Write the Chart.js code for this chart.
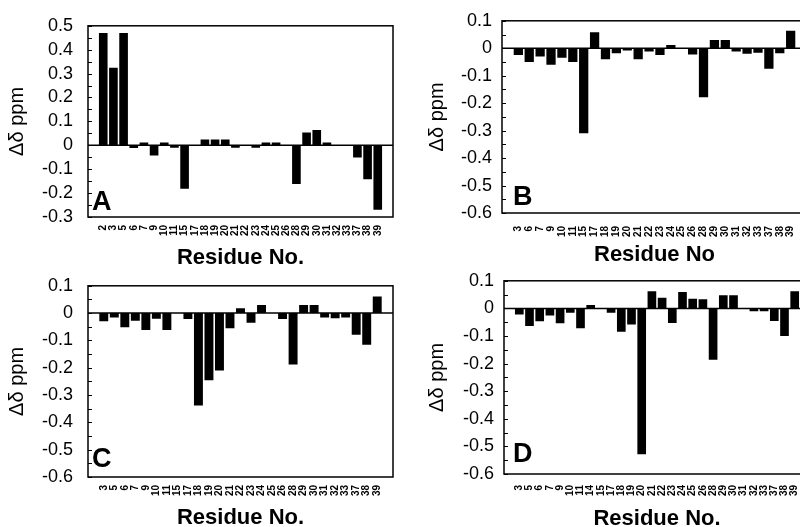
<!DOCTYPE html>
<html>
<head>
<meta charset="utf-8">
<script src="https://cdn.jsdelivr.net/npm/chart.js@4.4.1/dist/chart.umd.min.js"></script>
<style>
  html, body { margin: 0; padding: 0; background: #fff; overflow: hidden; width: 800px; height: 527px; position: relative; }
  canvas { position: absolute; }
</style>
</head>
<body>
<canvas id="chartA" width="400" height="271" style="left:0;top:0"></canvas>
<canvas id="chartB" width="420" height="268" style="left:400px;top:0"></canvas>
<canvas id="chartC" width="400" height="271" style="left:0;top:260px"></canvas>
<canvas id="chartD" width="420" height="272" style="left:400px;top:260px"></canvas>
<script>
// --- Data (residue labels and chemical shift changes, ppm) ---
const residuesA = ['2','3','5','6','7','9','10','11','15','17','18','19','20','21','22','23','24','25','26','28','29','30','31','32','33','37','38','39'];
const shiftsA = [0.47, 0.324, 0.47, -0.011, 0.012, -0.043, 0.012, -0.01, -0.182, 0, 0.024, 0.024, 0.024, -0.01, 0, -0.01, 0.012, 0.012, 0, -0.162, 0.054, 0.064, 0.012, 0, 0, -0.051, -0.142, -0.27];
const yRangeA = [-0.3, 0.5];

const residuesB = ['3','6','7','9','10','11','15','17','18','19','20','21','22','23','24','25','26','28','29','30','31','32','33','37','38','39'];
const shiftsB = [-0.025, -0.05, -0.03, -0.06, -0.035, -0.05, -0.31, 0.058, -0.04, -0.018, -0.008, -0.04, -0.012, -0.025, 0.012, 0, -0.023, -0.178, 0.03, 0.03, -0.012, -0.02, -0.016, -0.075, -0.018, 0.064];
const yRangeB = [-0.6, 0.1];

const residuesC = ['3','5','6','7','9','10','11','15','17','18','19','20','21','22','23','24','25','26','28','29','30','31','32','33','37','38','39'];
const shiftsC = [-0.03, -0.016, -0.052, -0.028, -0.062, -0.021, -0.062, 0, -0.022, -0.338, -0.246, -0.21, -0.055, 0.018, -0.035, 0.03, 0, -0.022, -0.188, 0.03, 0.03, -0.016, -0.019, -0.016, -0.079, -0.116, 0.061];
const yRangeC = [-0.6, 0.1];

const residuesD = ['3','5','6','7','9','10','11','14','15','17','18','19','20','21','22','23','24','25','26','28','29','30','31','32','33','37','38','39'];
const shiftsD = [-0.022, -0.064, -0.047, -0.026, -0.054, -0.016, -0.072, 0.012, 0, -0.016, -0.085, -0.058, -0.528, 0.062, 0.039, -0.053, 0.059, 0.035, 0.033, -0.186, 0.048, 0.048, 0, -0.01, -0.01, -0.046, -0.1, 0.062];
const yRangeD = [-0.6, 0.1];

const FONT = '"Liberation Sans", Arial, sans-serif';

// frame, inward ticks, zero line and the panel letter
const panelDecor = {
  id: 'panelDecor',
  afterDraw(chart, args, opts) {
    const { ctx, chartArea: a } = chart;
    const y = chart.scales.y;
    ctx.save();
    ctx.strokeStyle = '#000';
    ctx.lineWidth = 1;
    y.ticks.forEach(t => {
      const py = Math.round(y.getPixelForValue(t.value)) + 0.5;
      ctx.beginPath();
      ctx.moveTo(a.left, py);
      ctx.lineTo(a.left + 4, py);
      ctx.stroke();
    });
    ctx.lineWidth = 1.5;
    const zy = y.getPixelForValue(0);
    ctx.beginPath();
    ctx.moveTo(a.left, zy);
    ctx.lineTo(a.right, zy);
    ctx.stroke();
    ctx.strokeRect(a.left, a.top, a.right - a.left, a.bottom - a.top);
    ctx.fillStyle = '#000';
    ctx.font = 'bold 27px ' + FONT;
    ctx.textBaseline = 'alphabetic';
    ctx.fillText(opts.letter, a.left + opts.letterDx, a.bottom - opts.letterDy);
    ctx.restore();
  }
};

function makePanel(id, residues, shifts, yRange, o) {
  new Chart(document.getElementById(id), {
    type: 'bar',
    data: {
      datasets: [{
        data: shifts.map((v, i) => ({ x: i, y: v })),
        backgroundColor: '#000',
        borderWidth: 0,
        barPercentage: 0.85,
        categoryPercentage: 1
      }]
    },
    options: {
      responsive: false,
      animation: false,
      layout: { padding: { top: o.top, right: o.right, left: 0, bottom: 0 } },
      plugins: {
        legend: { display: false },
        tooltip: { enabled: false },
        panelDecor: { letter: o.letter, letterDx: o.letterDx, letterDy: o.letterDy }
      },
      scales: {
        x: {
          type: 'linear',
          min: -1,
          max: residues.length,
          grid: { display: false, drawTicks: false },
          border: { display: false },
          ticks: {
            stepSize: 1,
            autoSkip: false,
            maxRotation: 90,
            minRotation: 90,
            padding: o.xPad,
            color: '#000',
            font: { family: FONT, size: 10, weight: 'bold' },
            callback: v => residues[v] ?? ''
          },
          title: {
            display: true,
            text: o.xTitle,
            color: '#000',
            font: { family: FONT, size: 22, weight: 'bold' },
            padding: { top: 0, bottom: 0 }
          },
          afterFit: s => {
            s.height = o.xHeight;
            s.paddingLeft = 0;
            s.paddingRight = 0;
          }
        },
        y: {
          min: yRange[0],
          max: yRange[1],
          grid: { display: false, drawTicks: false },
          border: { display: false },
          ticks: {
            stepSize: 0.05,
            autoSkip: false,
            padding: o.yPad,
            color: '#000',
            font: { family: FONT, size: 18 },
            callback: v => {
              const r = Math.round(v * 100);
              return r % 10 === 0 ? String(r / 100) : '';
            }
          },
          title: {
            display: true,
            text: 'Δδ ppm',
            color: '#000',
            font: { family: FONT, size: 20 },
            padding: { top: o.yTitlePad, bottom: 0 }
          },
          afterFit: s => { s.width = o.yWidth; }
        }
      }
    },
    plugins: [panelDecor]
  });
}

makePanel('chartA', residuesA, shiftsA, yRangeA, {
  letter: 'A', letterDx: 4, letterDy: 7, top: 19, right: 7, xHeight: 54, xPad: 8,
  xTitle: 'Residue No.', yWidth: 88, yPad: 15, yTitlePad: 5
});
makePanel('chartB', residuesB, shiftsB, yRangeB, {
  letter: 'B', letterDx: 11, letterDy: 8, top: 20, right: 13, xHeight: 55, xPad: 13,
  xTitle: 'Residue No', yWidth: 102, yPad: 10, yTitlePad: 25
});
makePanel('chartC', residuesC, shiftsC, yRangeC, {
  letter: 'C', letterDx: 4, letterDy: 10, top: 18, right: 7, xHeight: 54, xPad: 8,
  xTitle: 'Residue No.', yWidth: 88, yPad: 15, yTitlePad: 5
});
makePanel('chartD', residuesD, shiftsD, yRangeD, {
  letter: 'D', letterDx: 9, letterDy: 12, top: 18, right: 10, xHeight: 58, xPad: 11,
  xTitle: 'Residue No.', yWidth: 104, yPad: 10, yTitlePad: 25
});
</script>
</body>
</html>
